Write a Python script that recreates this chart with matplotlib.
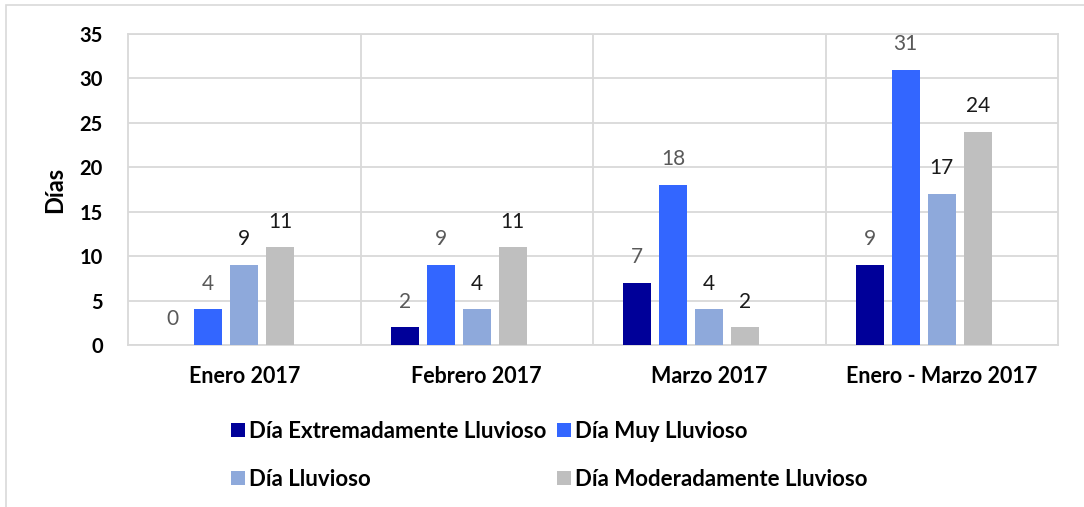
#! /usr/bin/env python3

'''
Días de lluvia por categoría, enero - marzo 2017.
'''

import numpy as np
import matplotlib
matplotlib.use('Agg')
import matplotlib.pyplot as plt
from matplotlib.patches import Rectangle, Patch


categories = ['Enero 2017', 'Febrero 2017', 'Marzo 2017', 'Enero - Marzo 2017']
series_names = ['Día Extremadamente Lluvioso', 'Día Muy Lluvioso',
                'Día Lluvioso', 'Día Moderadamente Lluvioso']
extremo = [0, 2, 7, 9]
muy = [4, 9, 18, 31]
lluvioso = [9, 4, 4, 17]
moderado = [11, 11, 2, 24]

colors = ['#000099', '#3366FF', '#8EA9DB', '#BFBFBF']
label_colors = ['#595959', '#595959', '#1a1a1a', '#1a1a1a']

plt.rcParams['font.family'] = ['Lato', 'DejaVu Sans']

fig = plt.figure(figsize=(10.84, 5.07), dpi=100)
ax = fig.add_axes([128 / 1084, 1 - 345 / 507, 930 / 1084, 311 / 507])

# light frame around the whole chart area
fig.patches.append(Rectangle((6 / 1084, -0.05), 1.1, 1 - 5 / 507 + 0.05,
                             transform=fig.transFigure, fill=False,
                             edgecolor='#d9d9d9', linewidth=1.2))

x = np.arange(len(categories))
slot = 0.155
width = 0.12
# five slots per category, the fifth one is empty
offsets = (np.arange(5) - 2) * slot

for i, values in enumerate([extremo, muy, lluvioso, moderado]):
    ax.bar(x + offsets[i], values, width=width, color=colors[i], zorder=3)
    for xi, v in zip(x + offsets[i], values):
        ax.annotate(str(v), (xi, v), xytext=(0, 18.5), textcoords='offset points',
                    ha='center', va='center', fontsize=15,
                    color=label_colors[i])

ax.set_xlim(-0.5, 3.5)
ax.set_ylim(0, 35)
ax.set_yticks(range(0, 36, 5))
ax.set_xticks(x)
ax.set_xticklabels(categories, fontweight='bold', fontsize=15.5)
ax.set_xticks([0.5, 1.5, 2.5], minor=True)
ax.tick_params(axis='both', length=0, which='both')
ax.tick_params(axis='y', pad=18, labelsize=14.5)
ax.tick_params(axis='x', pad=15)
for lab in ax.get_yticklabels():
    lab.set_fontweight('bold')

ax.grid(axis='y', color='#d9d9d9', linewidth=1.3, zorder=0)
ax.grid(axis='x', which='minor', color='#d9d9d9', linewidth=1.3, zorder=0)
for spine in ax.spines.values():
    spine.set_color('#d9d9d9')
    spine.set_linewidth(1.3)

ax.set_ylabel('Días', fontweight='bold', fontsize=17, labelpad=10)

handles = [Patch(facecolor=c) for c in colors]
order = [0, 2, 1, 3]
ax.legend([handles[i] for i in order], [series_names[i] for i in order],
          ncol=2, loc='upper left', bbox_to_anchor=(231 / 1084, 1 - 421 / 507),
          bbox_transform=fig.transFigure, frameon=False,
          prop={'weight': 'bold', 'size': 16},
          handlelength=0.63, handleheight=0.63, handletextpad=0.2,
          labelspacing=1.2, columnspacing=0.45, borderaxespad=0, borderpad=0)

fig.savefig('out.png', dpi=100)
